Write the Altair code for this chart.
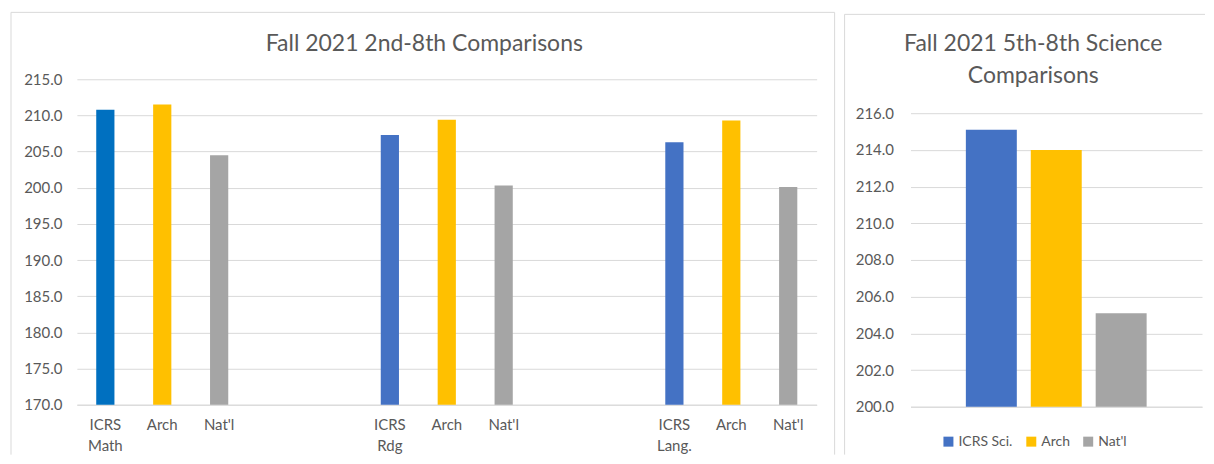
import altair as alt
import pandas as pd

FONT = "Lato"
TEXT_COLOR = "#595959"
GRID_COLOR = "#D9D9D9"

# ---------------- data: left chart ----------------
subjects = ["Math", "Rdg", "Lang."]
icrs_scores = [210.8, 207.3, 206.3]
arch_scores = [211.5, 209.4, 209.3]
natl_scores = [204.5, 200.3, 200.1]
left_series = ["ICRS", "Arch", "Nat'l"]
left_title = "Fall 2021 2nd-8th Comparisons"
left_ticks = [170, 175, 180, 185, 190, 195, 200, 205, 210, 215]

# ---------------- data: right chart ----------------
sci_categories = ["ICRS Sci.", "Arch", "Nat'l"]
sci_scores = [215.1, 214.0, 205.1]
right_title = "Fall 2021 5th-8th Science\nComparisons"
right_ticks = [200, 202, 204, 206, 208, 210, 212, 214, 216]

# build left table
rows = []
domain = []
for gi, (subj, vals) in enumerate(zip(subjects, zip(icrs_scores, arch_scores, natl_scores))):
    for s, v in zip(left_series, vals):
        label = f"ICRS {subj}" if s == "ICRS" else s
        key = f"{subj}|{label}"
        color_key = "ICRS Math" if (s == "ICRS" and subj == "Math") else s
        rows.append({"key": key, "score": v, "series": color_key})
        domain.append(key)
    if gi < len(subjects) - 1:
        domain += [f"gap{gi}a", f"gap{gi}b"]
left_df = pd.DataFrame(rows)

right_df = pd.DataFrame({"cat": sci_categories, "score": sci_scores})
one = pd.DataFrame({"t": [left_title]})
one_r = pd.DataFrame({"t": [right_title]})
blank = pd.DataFrame({"a": [0]})

LW, LH = 741, 326
RW, RH = 292, 328
R_TOP = 34  # right plot's top gridline sits lower than the left one

label_expr = "indexof(datum.label, '|') < 0 ? '' : split(split(datum.label, '|')[1], ' ')"

bars_left = alt.Chart(left_df).mark_bar().encode(
    x=alt.X("key:N", sort=domain,
            scale=alt.Scale(domain=domain, paddingInner=0.68, paddingOuter=0.34),
            axis=alt.Axis(title=None, labelExpr=label_expr, labelAngle=0, ticks=False,
                          domain=True, domainColor=GRID_COLOR, labelPadding=13,
                          labelLineHeight=21, labelBaseline="top",
                          labelFontSize=15, labelColor=TEXT_COLOR, labelFont=FONT)),
    y=alt.Y("score:Q", scale=alt.Scale(domain=[left_ticks[0], left_ticks[-1]], zero=False, nice=False),
            axis=alt.Axis(title=None, values=left_ticks, format=".1f", ticks=False, domain=False,
                          gridColor=GRID_COLOR, labelPadding=15, labelFontSize=15,
                          labelColor=TEXT_COLOR, labelFont=FONT)),
    y2=alt.datum(left_ticks[0]),
    color=alt.Color("series:N",
                    scale=alt.Scale(domain=["ICRS Math", "ICRS", "Arch", "Nat'l"],
                                    range=["#0070C0", "#4472C4", "#FFC000", "#A5A5A5"]),
                    legend=None),
)

title_left = alt.Chart(one).mark_text(
    align="center", baseline="middle", font=FONT, fontSize=23, color=TEXT_COLOR
).encode(x=alt.value(348), y=alt.value(-35), text="t:N")

border_style = dict(color=GRID_COLOR, strokeWidth=1)
bl1 = alt.Chart(blank).mark_rule(**border_style).encode(x=alt.value(-66), y=alt.value(-67), y2=alt.value(376))
bl2 = alt.Chart(blank).mark_rule(**border_style).encode(x=alt.value(-66), x2=alt.value(759), y=alt.value(-67))
bl3 = alt.Chart(blank).mark_rule(**border_style).encode(x=alt.value(759), y=alt.value(-67), y2=alt.value(376))

left = alt.layer(bars_left, title_left, bl1, bl2, bl3).properties(width=LW, height=LH)

bars_right = alt.Chart(right_df).mark_bar().encode(
    x=alt.X("cat:N", sort=sci_categories,
            scale=alt.Scale(domain=sci_categories, paddingInner=0.215, paddingOuter=0.853),
            axis=alt.Axis(title=None, labels=False, ticks=False, domain=True, domainColor=GRID_COLOR)),
    y=alt.Y("score:Q", scale=alt.Scale(domain=[right_ticks[0], right_ticks[-1]], zero=False, nice=False,
                                       range=[RH, R_TOP]),
            axis=alt.Axis(title=None, values=right_ticks, format=".1f", ticks=False, domain=False,
                          gridColor=GRID_COLOR, labelPadding=17, labelFontSize=15,
                          labelColor=TEXT_COLOR, labelFont=FONT)),
    y2=alt.datum(right_ticks[0]),
    color=alt.Color("cat:N",
                    scale=alt.Scale(domain=sci_categories, range=["#4472C4", "#FFC000", "#A5A5A5"]),
                    legend=alt.Legend(title=None, orient="none", legendX=31, legendY=356,
                                      direction="horizontal", symbolType="square", symbolSize=100,
                                      symbolStrokeWidth=0, labelFontSize=14, labelFont=FONT,
                                      labelColor=TEXT_COLOR, columnPadding=11, labelOffset=3,
                                      padding=0)),
)

title_right = alt.Chart(one_r).mark_text(
    align="center", baseline="middle", font=FONT, fontSize=23, color=TEXT_COLOR,
    lineBreak="\n", lineHeight=32
).encode(x=alt.value(123), y=alt.value(-35), text="t:N")

br1 = alt.Chart(blank).mark_rule(**border_style).encode(x=alt.value(-66), y=alt.value(-65), y2=alt.value(376))
br2 = alt.Chart(blank).mark_rule(**border_style).encode(x=alt.value(-66), x2=alt.value(295), y=alt.value(-65))

right = alt.layer(bars_right, title_right, br1, br2).properties(width=RW, height=RH)

chart = alt.hconcat(left, right, spacing=8).resolve_scale(
    x="independent", y="independent", color="independent"
).properties(
    padding={"left": 2, "top": 3, "right": 0, "bottom": 0},
    background="white",
).configure_view(stroke=None)

chart.save("out.html", embed_options={"renderer": "svg", "actions": False})
